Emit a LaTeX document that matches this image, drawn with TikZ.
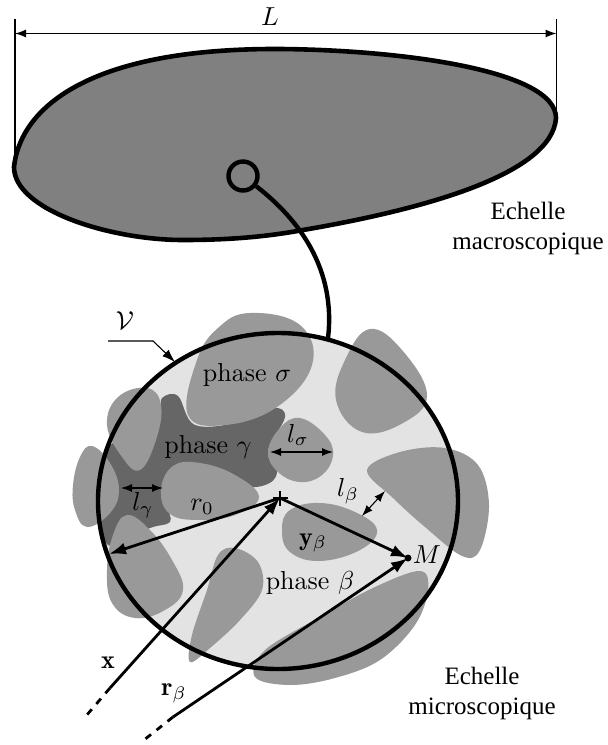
\documentclass[tikz,border=0pt]{standalone}
\usepackage{fontspec}
\usetikzlibrary{arrows.meta}
\newfontfamily\echellefont{Liberation Serif}
\definecolor{BodyGray}{HTML}{808080}
\definecolor{MatrixGray}{HTML}{E3E3E3}
\definecolor{GrainGray}{HTML}{999999}
\definecolor{GammaGray}{HTML}{666666}
\tikzset{
  lab/.style={inner sep=0pt,scale=2.6},
  echelle/.style={inner sep=0pt,align=center,font=\fontsize{25}{30}\selectfont\echellefont},
  thinarrow/.style={line width=1.1pt,{Latex[length=11pt,width=8pt]}-{Latex[length=11pt,width=8pt]}},
  heavyarrow/.style={line width=2.8pt,-{Latex[length=17pt,width=12pt]}},
}
\begin{document}
\begin{tikzpicture}[x=1pt,y=-1pt]
    \useasboundingbox (0,0) rectangle (608,745);
    % macroscopic body
    \draw[line width=4.6pt,fill=BodyGray] (14,167) .. controls (20,110) and (85,48) .. (280,49)
      .. controls (400,50) and (556,70) .. (556,118)
      .. controls (552,175) and (420,210) .. (303,230)
      .. controls (260,238) and (220,240) .. (183,240)
      .. controls (110,240) and (14,210) .. (14,167) -- cycle;
    \coordinate (leftedge) at (15,160);
    \coordinate (rightedge) at (556.5,110);
    \coordinate (lefttop) at (15,19);
    \coordinate (righttop) at (556.5,19);
    \coordinate (leftdim) at (15,33.5);
    \coordinate (rightdim) at (556.5,33.5);
    \draw[line width=1.1pt] (lefttop) -- (leftedge);
    \draw[line width=1.1pt] (righttop) -- (rightedge);
    \draw[thinarrow] (leftdim) -- (rightdim);
    \node[lab] (Llab) at (270,17) {$L$};
    % microscopic sample
    \coordinate (sample) at (278,501);
    \fill[MatrixGray] (sample) ellipse [x radius=180,y radius=168];
    % phase gamma
    \fill[GammaGray] plot[smooth cycle,tension=0.6] coordinates {(162,398) (178,396) (195,425) (240,422) (273,408) (285,417) (268,451) (277,473) (262,486) (215,490) (172,505) (170,522) (150,528) (108,545) (100,490) (108,448) (156,415)};
    % grains
    \fill[GrainGray] plot[smooth cycle,tension=0.7] coordinates {(250,313) (300,325) (312,365) (277,407) (225,425) (188,415) (197,360) (218,328)};
    \fill[GrainGray] plot[smooth cycle,tension=0.7] coordinates {(370,329) (402,350) (427,395) (403,423) (362,432) (336,400) (346,358)};
    \fill[GrainGray] plot[smooth cycle,tension=0.7] coordinates {(300,418) (325,435) (333,455) (322,475) (300,482) (278,472) (268,452) (280,428)};
    \fill[GrainGray] plot[smooth cycle,tension=0.6] coordinates {(367,470) (400,452) (445,448) (478,465) (489,505) (480,550) (462,556) (425,527) (393,498)};
    \fill[GrainGray] plot[smooth cycle,tension=0.7] coordinates {(290,510) (320,503) (355,512) (377,530) (360,550) (320,561) (290,552) (282,530)};
    \fill[GrainGray] plot[smooth cycle,tension=0.6] coordinates {(420,571) (428,590) (415,625) (380,660) (335,678) (290,685) (255,677) (265,650) (320,617) (375,587)};
    \fill[GrainGray] plot[smooth cycle,tension=0.6] coordinates {(235,548) (258,562) (262,590) (240,620) (210,648) (190,662) (192,635) (207,590) (218,555)};
    \fill[GrainGray] plot[smooth cycle,tension=0.7] coordinates {(127,515) (150,530) (172,560) (183,590) (165,610) (135,618) (112,603) (107,570) (113,535)};
    \fill[GrainGray] plot[smooth cycle,tension=0.7] coordinates {(92,446) (110,463) (119,490) (110,513) (87,527) (75,510) (73,485) (80,457)};
    \fill[GrainGray] plot[smooth cycle,tension=0.7] coordinates {(147,388) (161,405) (156,440) (140,470) (122,457) (107,425) (118,397)};
    \fill[GrainGray] plot[smooth cycle,tension=0.7] coordinates {(173,466) (200,463) (235,475) (259,497) (235,515) (200,520) (170,514) (161,490)};
    \draw[line width=4.4pt] (sample) ellipse [x radius=180,y radius=168];
    % link between the scales
    \node[circle,draw,line width=4.4pt,minimum size=29pt,inner sep=0pt] (zoomed) at (243,176) {};
    \coordinate (sampletop) at (328,338);
    \draw[line width=4.4pt] (zoomed) .. controls (300,220) and (336,270) .. (sampletop);
    % sample label
    \node[lab] (Vlab) at (125,321) {$\mathcal{V}$};
    \coordinate (Vstart) at (108,341);
    \coordinate (Vbend) at (153,341);
    \coordinate (Vend) at (175,362);
    \draw[line width=1.1pt,-{Latex[length=13pt,width=9pt]}] (Vstart) -- (Vbend) -- (Vend);
    % vectors
    \coordinate (centre) at (280,498);
    \coordinate (M) at (408,558);
    \coordinate (wall) at (109,554);
    \coordinate (xfoot) at (110,688);
    \coordinate (xend) at (86,716);
    \coordinate (rfoot) at (173,717);
    \coordinate (rend) at (144,740);
    \draw[line width=1.1pt] (280,491) -- (280,506) (273,498) -- (288,498);
    \draw[heavyarrow] (centre) -- (wall);
    \draw[heavyarrow] (xfoot) -- (centre);
    \draw[line width=2.8pt,dash pattern=on 7pt off 7pt] (xfoot) -- (xend);
    \draw[heavyarrow] (centre) -- (M);
    \draw[heavyarrow] (rfoot) -- (M);
    \draw[line width=2.8pt,dash pattern=on 7pt off 7pt] (rfoot) -- (rend);
    \fill (M) circle (3.5);
    % characteristic lengths
    \coordinate (sigmaleft) at (270,452);
    \coordinate (sigmaright) at (333,452);
    \coordinate (gammaleft) at (121,488);
    \coordinate (gammaright) at (163,488);
    \coordinate (betalow) at (362,516);
    \coordinate (betahigh) at (385,491);
    \draw[thinarrow] (sigmaleft) -- (sigmaright);
    \draw[thinarrow] (gammaleft) -- (gammaright);
    \draw[thinarrow] (betalow) -- (betahigh);
    % labels
    \node[lab] (sigmalab) at (247,375) {phase $\sigma$};
    \node[lab] (gammalab) at (208,447) {phase $\gamma$};
    \node[lab] (betalab) at (310,583) {phase $\beta$};
    \node[lab] (lsigma) at (298,435) {$l_\sigma$};
    \node[lab] (lgamma) at (143,505) {$l_\gamma$};
    \node[lab] (lbeta) at (348,491) {$l_\beta$};
    \node[lab] (rzero) at (202,507) {$r_0$};
    \node[lab] (ybeta) at (313,543) {$\mathbf{y}_\beta$};
    \node[lab] (Mlab) at (427,555) {$M$};
    \node[lab] (xlab) at (108,663) {$\mathbf{x}$};
    \node[lab] (rbeta) at (174,693) {$\mathbf{r}_\beta$};
    \node[echelle] (macro) at (528,228) {Echelle\\macroscopique};
    \node[echelle] (micro) at (482,693) {Echelle\\microscopique};
  \end{tikzpicture}
\end{document}
